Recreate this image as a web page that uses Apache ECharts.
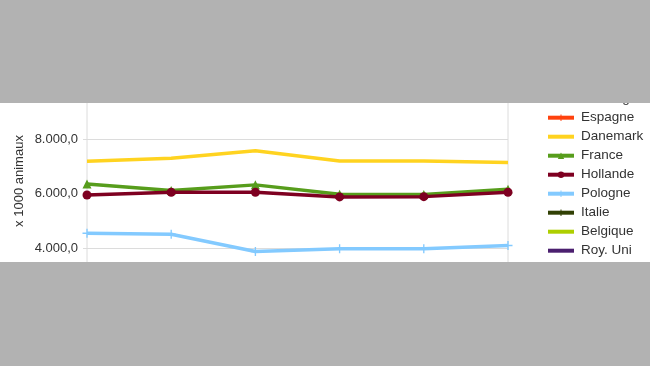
<!DOCTYPE html>
<html><head><meta charset="utf-8">
<script src="https://cdn.jsdelivr.net/npm/echarts@6/dist/echarts.min.js"></script>
<style>
html,body{margin:0;padding:0;background:#b2b2b2;width:650px;height:366px;overflow:hidden;}
#white{position:absolute;left:0;top:103px;width:650px;height:159px;background:#fff;}
#chart{position:absolute;left:0;top:0;width:650px;height:366px;}
.mask{position:absolute;left:0;width:650px;background:#b2b2b2;z-index:10;}
</style></head>
<body>
<div id="white"></div>
<div id="chart"></div>
<div class="mask" style="top:0;height:103px"></div>
<div class="mask" style="top:262px;height:104px"></div>
<script>
const categories = ['2008','2009','2010','2011','2012','2013'];
const seriesNames = ['Allemagne','Espagne','Danemark','France','Hollande','Pologne','Italie','Belgique','Roy. Uni'];
const allemagne = [];
const espagne = [];
const danemark = [7185, 7290, 7570, 7195, 7195, 7135];
const france = [6355, 6110, 6320, 5975, 5970, 6160];
const hollande = [5950, 6050, 6050, 5880, 5890, 6050];
const pologne = [4550, 4515, 3880, 3980, 3980, 4100];
const italie = [];
const belgique = [];
const royUni = [];
const yTicks = [0, 2000, 4000, 6000, 8000, 10000];

const colors = ['#004586','#ff420e','#ffd320','#579d1c','#7e0021','#83caff','#314004','#aecf00','#4b1f6f'];
const plus = 'path://M-0.15,-1L0.15,-1L0.15,-0.15L1,-0.15L1,0.15L0.15,0.15L0.15,1L-0.15,1L-0.15,0.15L-1,0.15L-1,-0.15L-0.15,-0.15Z';
const datasets = [allemagne, espagne, danemark, france, hollande, pologne, italie, belgique, royUni];
const symbols = ['rect', plus, 'none', 'triangle', 'circle', plus, plus, 'none', 'none'];
const sizes = [7, 9, 0, 9, 9, 9, 9, 0, 0];

function fmt(v){
  const s = Math.round(v).toString().replace(/\B(?=(\d{3})+(?!\d))/g,'.');
  return s + ',0';
}

const FONT = 'Liberation Sans, Arial, sans-serif';
const chart = echarts.init(document.getElementById('chart'), null, {renderer:'canvas'});
chart.setOption({
  backgroundColor: 'transparent',
  animation: false,
  color: colors,
  textStyle: {fontFamily: FONT},
  grid: {left: 87, right: 142, top: 84.3, bottom: 8.4, show: true, borderColor: '#dcdcdc', borderWidth: 1},
  legend: {
    orient: 'vertical', left: 546, top: 91.7, padding: 0,
    itemWidth: 26, itemHeight: 8, itemGap: 5,
    lineStyle: {width: 4},
    textStyle: {fontSize: 13.5, lineHeight: 14, color: '#333', padding: [0,0,0,2], fontFamily: FONT},
    data: seriesNames.map((n, i) => symbols[i] === 'none'
      ? {name: n, itemStyle: {opacity: 0}}
      : {name: n})
  },
  xAxis: {
    type: 'category', data: categories, boundaryGap: false,
    axisLine: {show: false}, axisTick: {show: false}, axisLabel: {show: false},
    splitLine: {show: false}
  },
  yAxis: {
    type: 'value', min: yTicks[0], max: yTicks[yTicks.length-1], interval: 2000,
    axisLine: {show: false},
    axisTick: {show: true, length: 4, lineStyle: {color: '#dcdcdc'}},
    axisLabel: {margin: 9, fontSize: 13, color: '#333', formatter: fmt, fontFamily: FONT},
    splitLine: {lineStyle: {color: '#dcdcdc', width: 1}}
  },
  graphic: [{
    type: 'text', x: 19, y: 181, rotation: Math.PI/2,
    style: {text: 'x 1000 animaux', fontSize: 13, fill: '#333', align: 'center', verticalAlign: 'middle', fontFamily: FONT}
  }],
  series: seriesNames.map((n, i) => ({
    name: n, type: 'line', data: datasets[i],
    symbol: symbols[i], symbolSize: sizes[i], showSymbol: symbols[i] !== 'none',
    lineStyle: {width: 3.5, color: colors[i]},
    itemStyle: {color: colors[i]},
    z: 2 + i
  }))
});
</script>
</body></html>
